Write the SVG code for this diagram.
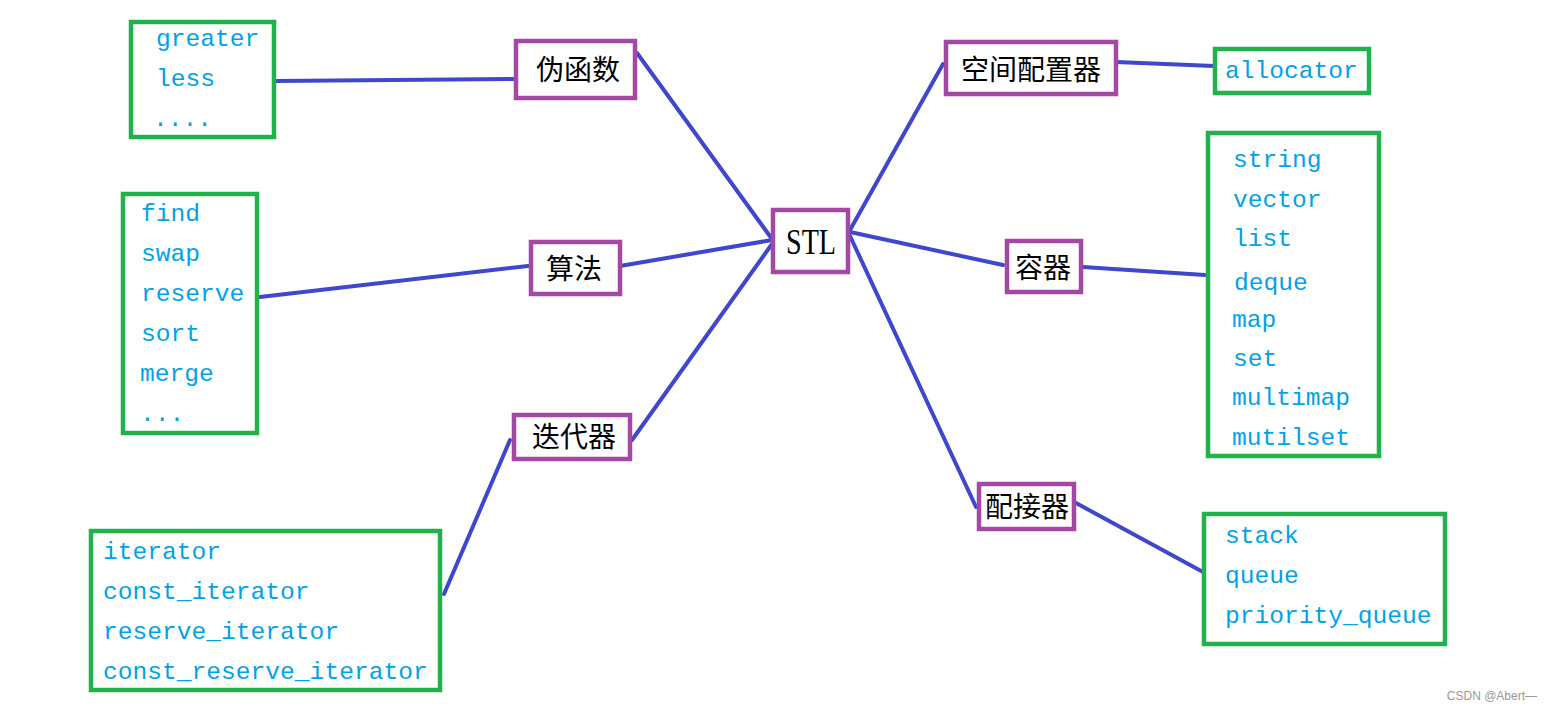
<svg xmlns="http://www.w3.org/2000/svg" width="1552" height="711" viewBox="0 0 1552 711">
<style>
.g{fill:#fff;stroke:#22B14C;stroke-width:4.5}
.p{fill:#fff;stroke:#A349A4;stroke-width:4.5}
.t{font-family:"Liberation Mono","DejaVu Sans Mono",monospace;font-size:24.6px;fill:#00A2E8}
.c{font-family:"Liberation Serif","Noto Sans CJK SC",serif;font-size:35px;fill:#000;text-anchor:middle;dominant-baseline:central}
.k{font-family:"Noto Sans CJK SC",sans-serif;font-size:28px;fill:#000;text-anchor:middle;dominant-baseline:central}
.l{stroke:#3F48CC;stroke-width:4;stroke-linecap:round;fill:none}
</style>
<rect width="1552" height="711" fill="#fff"/>
<g id="connectors">
<line class="l" x1="275" y1="81" x2="515" y2="79"/>
<line class="l" x1="637" y1="53" x2="772" y2="239"/>
<line class="l" x1="260" y1="297" x2="528" y2="266"/>
<line class="l" x1="620" y1="266" x2="772" y2="240"/>
<line class="l" x1="632" y1="440" x2="772" y2="244"/>
<line class="l" x1="444" y1="594" x2="510" y2="440"/>
<line class="l" x1="850" y1="230" x2="943" y2="64"/>
<line class="l" x1="1116" y1="62" x2="1214" y2="66"/>
<line class="l" x1="850" y1="232" x2="1003" y2="265"/>
<line class="l" x1="1083" y1="267" x2="1205" y2="275"/>
<line class="l" x1="850" y1="236" x2="976" y2="507"/>
<line class="l" x1="1076" y1="503" x2="1203" y2="572"/>
</g>
<g id="functors-list">
<rect class="g" x="131" y="22" width="143" height="115"/>
<text class="t" x="156" y="46">greater</text>
<text class="t" x="156" y="86">less</text>
<text class="t" x="153" y="126">....</text>
</g>
<g id="algorithms-list">
<rect class="g" x="123" y="194" width="134" height="239"/>
<text class="t" x="141" y="221">find</text>
<text class="t" x="141" y="261">swap</text>
<text class="t" x="141" y="301">reserve</text>
<text class="t" x="141" y="341">sort</text>
<text class="t" x="140" y="381">merge</text>
<text class="t" x="140" y="421">...</text>
</g>
<g id="iterators-list">
<rect class="g" x="91" y="531" width="349" height="159"/>
<text class="t" x="103" y="559">iterator</text>
<text class="t" x="103" y="599">const_iterator</text>
<text class="t" x="103" y="639">reserve_iterator</text>
<text class="t" x="103" y="679">const_reserve_iterator</text>
</g>
<g id="functor">
<rect class="p" x="516" y="41" width="119" height="57"/>
<text class="k" x="578" y="68">伪函数</text>
</g>
<g id="algorithm">
<rect class="p" x="531" y="242" width="89" height="52"/>
<text class="k" x="574" y="267">算法</text>
</g>
<g id="iterator">
<rect class="p" x="514" y="415" width="116" height="44"/>
<text class="k" x="574" y="435">迭代器</text>
</g>
<g id="stl">
<rect class="p" x="773" y="210" width="75" height="62"/>
<text class="c" x="811" y="242" textLength="50" lengthAdjust="spacingAndGlyphs">STL</text>
</g>
<g id="allocator-node">
<rect class="p" x="946" y="42" width="170" height="52"/>
<text class="k" x="1031" y="68">空间配置器</text>
</g>
<g id="container">
<rect class="p" x="1007" y="241" width="74" height="51"/>
<text class="k" x="1043" y="266">容器</text>
</g>
<g id="adapter">
<rect class="p" x="979" y="484" width="95" height="45"/>
<text class="k" x="1027" y="505">配接器</text>
</g>
<g id="allocator-list">
<rect class="g" x="1215" y="49" width="154" height="44"/>
<text class="t" x="1225" y="78">allocator</text>
</g>
<g id="containers-list">
<rect class="g" x="1208" y="133" width="171" height="323"/>
<text class="t" x="1233" y="167">string</text>
<text class="t" x="1233" y="207">vector</text>
<text class="t" x="1233" y="246">list</text>
<text class="t" x="1234" y="290">deque</text>
<text class="t" x="1232" y="327">map</text>
<text class="t" x="1233" y="366">set</text>
<text class="t" x="1232" y="405">multimap</text>
<text class="t" x="1232" y="445">mutilset</text>
</g>
<g id="adapters-list">
<rect class="g" x="1204" y="514" width="241" height="130"/>
<text class="t" x="1225" y="543">stack</text>
<text class="t" x="1225" y="583">queue</text>
<text class="t" x="1225" y="623">priority_queue</text>
</g>
<text x="1537" y="700" text-anchor="end" font-family="'Liberation Sans',sans-serif" font-size="12" fill="#999">CSDN @Abert—</text>
</svg>
